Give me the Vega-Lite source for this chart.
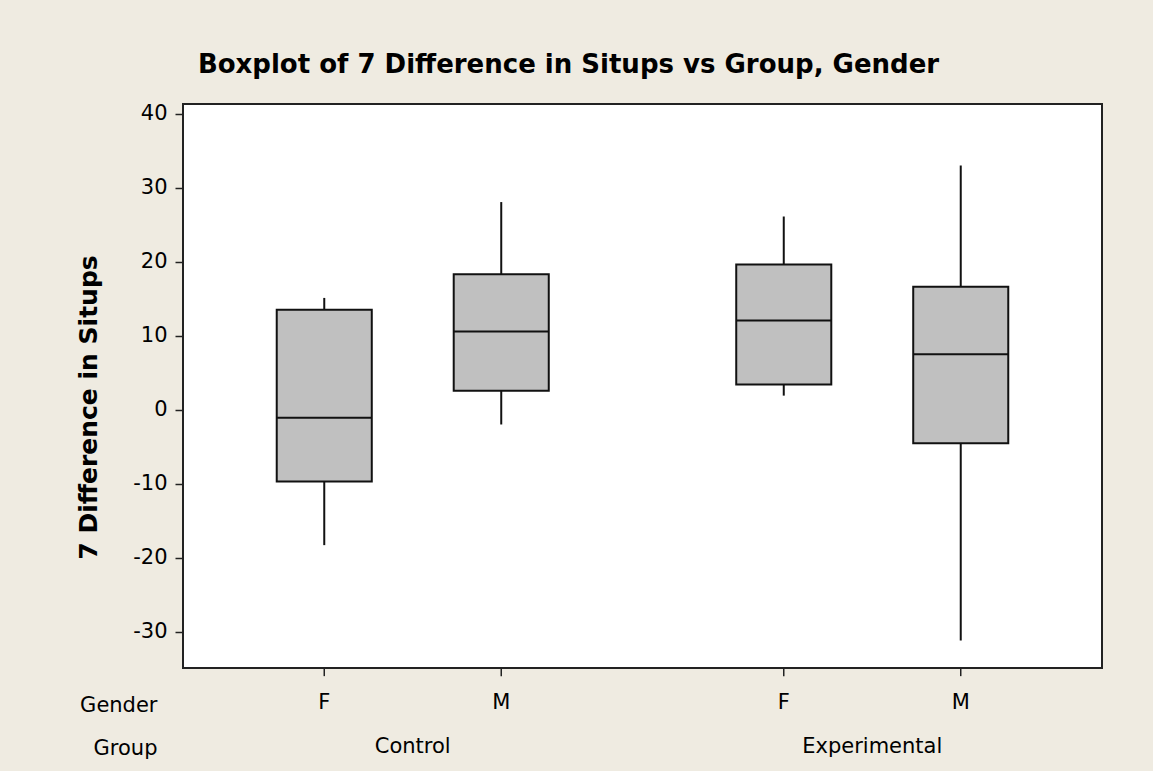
{
  "$schema": "https://vega.github.io/schema/vega-lite/v6.json",
  "autosize": "none",
  "width": 919,
  "height": 564,
  "padding": {"left": 183, "top": 104, "right": 51, "bottom": 103},
  "background": "#EFEBE1",
  "title": {
    "text": "Boxplot of 7 Difference in Situps vs Group, Gender",
    "font": "DejaVu Sans",
    "fontSize": 26,
    "fontWeight": "bold",
    "color": "#000000",
    "anchor": "middle",
    "frame": "group",
    "baseline": "alphabetic",
    "offset": 4,
    "dx": -74
  },
  "config": {
    "view": {"stroke": "#222222", "strokeWidth": 2, "fill": "#FFFFFF"},
    "font": "DejaVu Sans"
  },
  "data": {
    "values": [
      {"Group": "Control", "Gender": "F", "lower": -18.3, "q1": -9.7, "median": -1.1, "q3": 13.5, "upper": 15.1},
      {"Group": "Control", "Gender": "M", "lower": -2.0, "q1": 2.55, "median": 10.55, "q3": 18.3, "upper": 28.05},
      {"Group": "Experimental", "Gender": "F", "lower": 1.9, "q1": 3.4, "median": 12.05, "q3": 19.6, "upper": 26.1},
      {"Group": "Experimental", "Gender": "M", "lower": -31.2, "q1": -4.55, "median": 7.5, "q3": 16.6, "upper": 33.0}
    ]
  },
  "encoding": {
    "x": {
      "field": "Group",
      "type": "nominal",
      "scale": {"paddingInner": 0.2, "paddingOuter": 0.1},
      "axis": {
        "ticks": false,
        "domain": false,
        "labelAngle": 0,
        "labelFont": "DejaVu Sans",
        "labelFontSize": 21,
        "labelColor": "#000000",
        "labelBaseline": "middle",
        "labelPadding": 78,
        "title": ["Gender", "Group"],
        "titleFont": "DejaVu Sans",
        "titleFontSize": 21,
        "titleFontWeight": "normal",
        "titleColor": "#000000",
        "titleAlign": "right",
        "titleAnchor": null,
        "titleAngle": 0,
        "titleBaseline": "alphabetic",
        "titleX": -26,
        "titleY": 43,
        "titleLineHeight": 43
      }
    },
    "xOffset": {
      "field": "Gender",
      "type": "nominal",
      "scale": {"paddingInner": 0.463, "paddingOuter": 0.27}
    }
  },
  "layer": [
    {
      "mark": {"type": "rule", "color": "#111111", "strokeWidth": 2},
      "encoding": {
        "y": {
          "field": "lower",
          "type": "quantitative",
          "scale": {"domain": [-34.9, 41.3], "nice": false, "zero": false},
          "axis": {
            "values": [-30, -20, -10, 0, 10, 20, 30, 40],
            "labelExpr": "replace(datum.label, '\u2212', '-')",
            "grid": false,
            "domain": false,
            "tickSize": 8,
            "tickColor": "#222222",
            "tickWidth": 1.5,
            "labelFont": "DejaVu Sans",
            "labelFontSize": 21,
            "labelColor": "#000000",
            "labelPadding": 8,
            "title": "7 Difference in Situps",
            "titleFont": "DejaVu Sans",
            "titleFontSize": 25,
            "titleFontWeight": "bold",
            "titleColor": "#000000",
            "titleAngle": -90,
            "titleAlign": "center",
            "titleBaseline": "middle",
            "titleX": -95,
            "titleY": 303
          }
        },
        "y2": {"field": "upper"}
      }
    },
    {
      "mark": {"type": "bar", "fill": "#C0C0C0", "stroke": "#111111", "strokeWidth": 2},
      "encoding": {
        "y": {"field": "q1", "type": "quantitative"},
        "y2": {"field": "q3"}
      }
    },
    {
      "mark": {"type": "tick", "color": "#111111", "size": 95, "thickness": 2, "opacity": 1},
      "encoding": {
        "y": {"field": "median", "type": "quantitative"}
      }
    },
    {
      "mark": {"type": "rule", "color": "#222222", "strokeWidth": 1.5},
      "encoding": {
        "y": {"datum": -34.9},
        "y2": {"datum": -36.0}
      }
    },
    {
      "mark": {"type": "text", "font": "DejaVu Sans", "fontSize": 21, "color": "#000000", "baseline": "middle", "align": "center"},
      "encoding": {
        "y": {"datum": -39.6},
        "text": {"field": "Gender", "type": "nominal"}
      }
    }
  ]
}
